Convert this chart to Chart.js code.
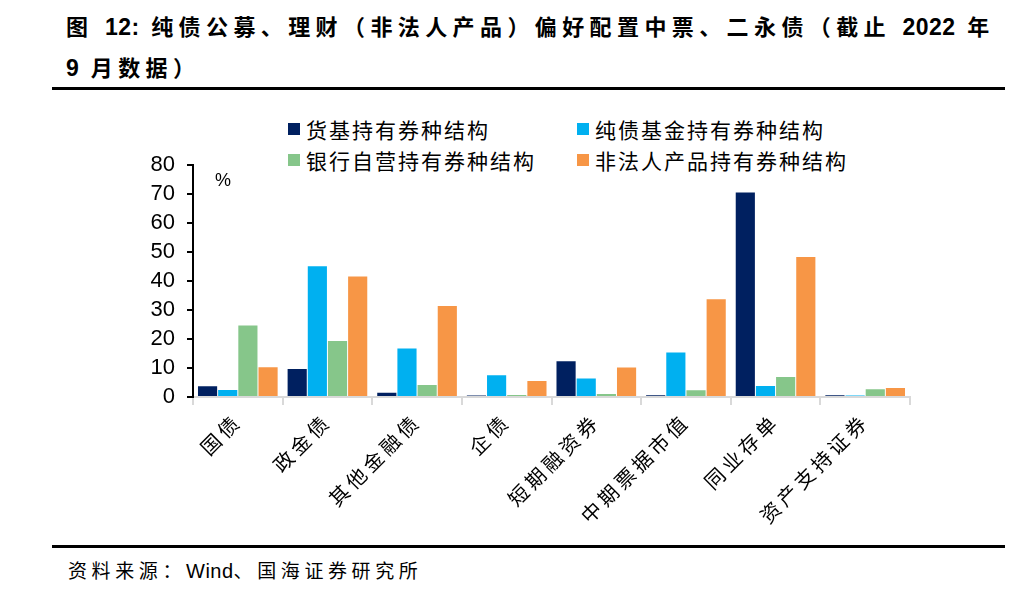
<!DOCTYPE html>
<html>
<head>
<meta charset="utf-8">
<script src="https://cdn.jsdelivr.net/npm/chart.js@4.4.0/dist/chart.umd.min.js"></script>
<style>
  html, body { margin: 0; padding: 0; background: #fff; }
  body { width: 1030px; height: 597px; position: relative; overflow: hidden; font-family: "Liberation Sans", "Noto Sans CJK SC", sans-serif; color: #000; }
  #title { position: absolute; left: 66px; top: 7px; font-size: 22px; font-weight: bold; line-height: 41px; letter-spacing: 5.4px; white-space: nowrap; }
  #title .l { letter-spacing: 0.5px; font-size: 23px; }
  .rule { position: absolute; left: 52px; width: 953px; height: 3px; background: #000; }
  #source { position: absolute; left: 68px; top: 556px; font-size: 19px; letter-spacing: 4.6px; white-space: nowrap; }
  #source .l { letter-spacing: 0.5px; font-size: 20px; }
  .lg { position: absolute; font-size: 21px; letter-spacing: 2px; white-space: nowrap; line-height: 26px; font-family: "Noto Sans CJK SC", sans-serif; }
  .sq { position: absolute; width: 12px; height: 12px; }
  #pct { position: absolute; left: 215px; top: 170px; font-size: 18px; }
  #wrap { position: absolute; left: 100px; top: 140px; width: 820px; height: 410px; }
</style>
</head>
<body>
<div id="title">图 <span class="l">12:</span> 纯债公募、理财（非法人产品）偏好配置中票、二永债（截止 <span class="l">2022</span> 年<br><span class="l">9</span> 月数据）</div>
<div class="rule" style="top:87px"></div>
<div id="legend"></div>
<div id="wrap"><canvas id="c"></canvas></div>
<div id="pct">%</div>
<div class="rule" style="top:545px"></div>
<div id="source">资料来源：<span class="l">Wind</span>、国海证券研究所</div>
<script>
// ---- data ----
const categories = ['国债', '政金债', '其他金融债', '企债', '短期融资券', '中期票据市值', '同业存单', '资产支持证券'];
const seriesNames = ['货基持有券种结构', '纯债基金持有券种结构', '银行自营持有券种结构', '非法人产品持有券种结构'];
const moneyFund = [3.7, 9.7, 1.5, 0.5, 12.3, 0.6, 70.6, 0.6];
const bondFund  = [2.4, 45.1, 16.7, 7.5, 6.4, 15.4, 3.8, 0.5];
const bankProp  = [24.7, 19.3, 4.1, 0.7, 1.0, 2.3, 6.9, 2.7];
const nonLegal  = [10.3, 41.6, 31.4, 5.5, 10.2, 33.7, 48.3, 3.1];
const yTickValues = [0, 10, 20, 30, 40, 50, 60, 70, 80];

const colors = ['#002060', '#00B0F0', '#86C68A', '#F79646'];
const seriesValues = [moneyFund, bondFund, bankProp, nonLegal];

// ---- HTML legend (2 x 2) ----
const legendPos = [[288, 306, 123], [577, 595, 123], [288, 306, 154], [577, 595, 154]];
const legend = document.getElementById('legend');
seriesNames.forEach((name, i) => {
  const [sx, tx, sy] = legendPos[i];
  const sq = document.createElement('div');
  sq.className = 'sq';
  sq.style.left = sx + 'px'; sq.style.top = sy + 'px'; sq.style.background = colors[i];
  legend.appendChild(sq);
  const t = document.createElement('div');
  t.className = 'lg';
  t.style.left = tx + 'px'; t.style.top = (sy - 7) + 'px';
  t.textContent = name;
  legend.appendChild(t);
});

// category scale whose labels are drawn with letter spacing
class SpacedCategoryScale extends Chart.CategoryScale {
  drawLabels(area) {
    const ctx = this.ctx;
    ctx.save();
    ctx.letterSpacing = '4px';
    super.drawLabels(area);
    ctx.restore();
  }
}
SpacedCategoryScale.id = 'spacedCategory';
SpacedCategoryScale.defaults = Chart.CategoryScale.defaults;
Chart.register(SpacedCategoryScale);

new Chart(document.getElementById('c'), {
  type: 'bar',
  data: {
    labels: categories,
    datasets: seriesNames.map((n, i) => ({
      label: n,
      data: seriesValues[i],
      backgroundColor: colors[i],
      borderWidth: 0,
      categoryPercentage: 0.9,
      barPercentage: 0.95
    }))
  },
  options: {
    responsive: true,
    maintainAspectRatio: false,
    animation: false,
    layout: { padding: { top: 5, right: 10, left: 0, bottom: 0 } },
    plugins: { legend: { display: false }, tooltip: { enabled: false } },
    scales: {
      x: {
        type: 'spacedCategory',
        offset: true,
        grid: { display: true, drawOnChartArea: false, offset: true, tickLength: 8, color: '#D9D9D9', lineWidth: 2 },
        border: { display: true, color: '#D9D9D9', width: 2 },
        ticks: {
          autoSkip: false, maxRotation: 45, minRotation: 45, padding: 4,
          color: '#000', font: { family: '"Noto Sans CJK SC", sans-serif', size: 20 }
        },
        afterFit: (s) => { s.height = 153; }
      },
      y: {
        min: 0, max: 80,
        afterBuildTicks: (s) => { s.ticks = yTickValues.map(v => ({ value: v })); },
        grid: { display: true, drawOnChartArea: false, tickLength: 6, color: '#000', lineWidth: 2 },
        border: { display: true, color: '#000', width: 2 },
        ticks: {
          autoSkip: false, stepSize: 10, padding: 12, color: '#000',
          font: { family: '"Liberation Sans", Arial, sans-serif', size: 22 }
        },
        afterFit: (s) => { s.width = 93; }
      }
    }
  }
});
</script>
</body>
</html>
